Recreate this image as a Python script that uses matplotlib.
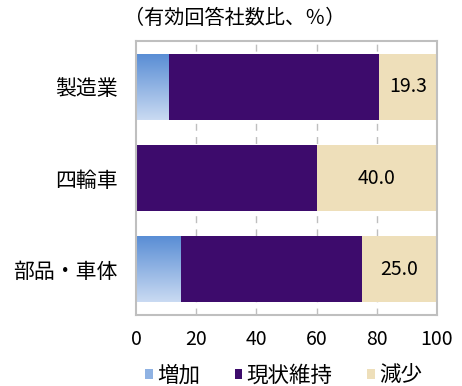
import numpy as np
import matplotlib
matplotlib.use("Agg")
import matplotlib.pyplot as plt
from matplotlib.colors import LinearSegmentedColormap
from matplotlib.patches import Rectangle

plt.rcParams['font.family'] = ['Noto Sans CJK JP', 'DejaVu Sans']

categories = ['製造業', '四輪車', '部品・車体']
increase = [11.0, 0.0, 15.0]
maintain = [69.7, 60.0, 60.0]
decrease = [19.3, 40.0, 25.0]
series_names = ['増加', '現状維持', '減少']
x_ticks = [0, 20, 40, 60, 80, 100]

c_inc_top = '#5a8ed5'
c_inc_bot = '#c9daf2'
c_main = '#3d0b6c'
c_dec = '#eedfba'
frame_col = '#bfbfbf'

fig = plt.figure(figsize=(4.62, 3.86), dpi=100)
ax = fig.add_axes([0.2944, 0.1839, 0.6515, 0.7098])

y = np.arange(len(categories))
h = 0.72

ax.set_xlim(0, 100)
ax.set_ylim(len(categories) - 0.5, -0.5)

# dashed vertical gridlines behind the bars
for xv in x_ticks[1:-1]:
    ax.axvline(xv, color=frame_col, lw=1.0, ls=(0, (5, 4.5)), zorder=0.5)

grad = LinearSegmentedColormap.from_list('inc', [c_inc_top, c_inc_bot])
gimg = np.linspace(0, 1, 64).reshape(-1, 1)

inc_bars = ax.barh(y, increase, height=h, color='none', lw=0, zorder=2)
for bar, yi, w in zip(inc_bars, y, increase):
    if w <= 0:
        continue
    im = ax.imshow(gimg, cmap=grad, aspect='auto', origin='upper',
                   extent=(0, w, yi + h / 2, yi - h / 2), zorder=2,
                   interpolation='bilinear')
    im.set_clip_path(bar)

left2 = np.array(increase)
ax.barh(y, maintain, left=left2, height=h, color=c_main, lw=0, zorder=2)
left3 = left2 + np.array(maintain)
ax.barh(y, decrease, left=left3, height=h, color=c_dec, lw=0, zorder=2)

ax.set_xlim(0, 100)
ax.set_ylim(len(categories) - 0.5, -0.5)

for yi, l, d in zip(y, left3, decrease):
    ax.text(l + d / 2, yi, f'{d:.1f}', ha='center', va='center',
            fontsize=14, color='black', zorder=3)

ax.set_yticks(y)
ax.set_yticklabels(categories, fontsize=15)
ax.set_xticks(x_ticks)
ax.set_xticklabels([str(v) for v in x_ticks], fontsize=14)
ax.tick_params(axis='both', length=0)
ax.tick_params(axis='y', pad=13)
ax.tick_params(axis='x', pad=10)

for s in ax.spines.values():
    s.set_color(frame_col)
    s.set_linewidth(1.5)

fig.text(0.509, 0.953, '（有効回答社数比、％）', ha='center', va='center',
         fontsize=14.5)

handles = [
    Rectangle((0, 0), 1, 1, facecolor='#8fb2e3', lw=0),
    Rectangle((0, 0), 1, 1, facecolor=c_main, lw=0),
    Rectangle((0, 0), 1, 1, facecolor=c_dec, lw=0),
]
fig.legend(handles, series_names, loc='center', bbox_to_anchor=(0.614, 0.026),
           ncol=3, frameon=False, fontsize=15.5, handlelength=0.35,
           handleheight=0.35, handletextpad=0.2, columnspacing=1.6,
           borderpad=0, borderaxespad=0)

fig.savefig('out.png', dpi=100)
